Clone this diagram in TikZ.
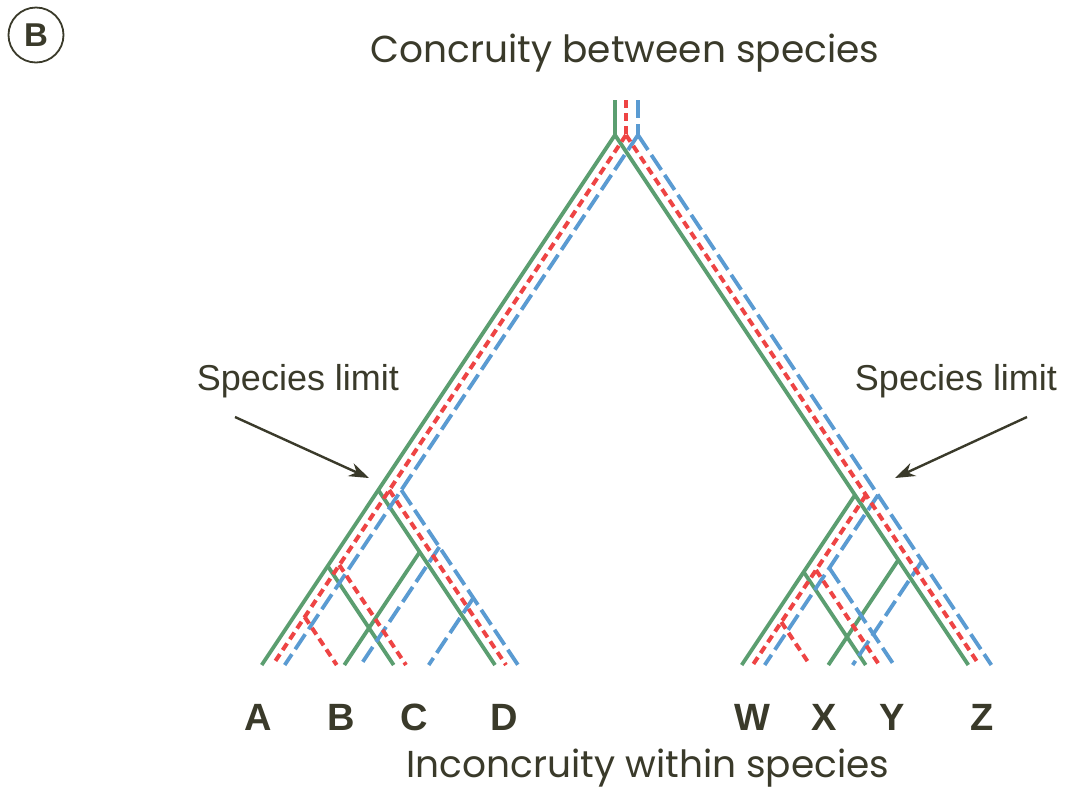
\documentclass[tikz,border=0pt]{standalone}
\usepackage{fontspec}
\setmainfont{Liberation Sans}
\newfontfamily\geofont{Poppins}
\usetikzlibrary{arrows.meta}
\definecolor{TreeGreen}{HTML}{5B9E70}
\definecolor{TreeRed}{HTML}{EE4444}
\definecolor{TreeBlue}{HTML}{5A9BD2}
\definecolor{TreeText}{HTML}{3A3A2A}

\begin{document}
\begin{tikzpicture}[x=1pt,y=-1pt,
    greengene/.style={TreeGreen,line width=3.8pt},
    redgene/.style={TreeRed,line width=4pt,dash pattern=on 8pt off 5pt},
    bluegene/.style={TreeBlue,line width=3.8pt,dash pattern=on 18pt off 6pt},
    caption/.style={text=TreeText,font=\geofont\fontsize{37.5}{40}\selectfont,anchor=base},
    limitlabel/.style={text=TreeText,font=\fontsize{36}{40}\selectfont,anchor=base},
    taxon/.style={text=TreeText,font=\bfseries\fontsize{38}{40}\selectfont,anchor=base},
    pointer/.style={TreeText,line width=2.4pt,-{Stealth[length=20pt,width=14pt]}}]
  \fill[white] (0,0) rectangle (1066,804);
  \useasboundingbox (0,0) rectangle (1066,804);

  % panel mark
  \node[draw=TreeText,line width=1.8pt,circle,minimum size=55pt,inner sep=0pt,
    text=TreeText,font=\bfseries\fontsize{33}{34}\selectfont] (panel) at (36,35) {B};

  % green lineage
  \draw[greengene] (615,100) -- (615,135);
  \draw[greengene] (615,135) -- (261.7,665);
  \draw[greengene] (615,135) -- (968.3,665);
  \draw[greengene] (378.3,490) -- (495,665);
  \draw[greengene] (419.7,552) -- (344.3,665);
  \draw[greengene] (327.7,566) -- (393.7,665);
  \draw[greengene] (855,495) -- (741.7,665);
  \draw[greengene] (803.7,572) -- (865.7,665);
  \draw[greengene] (898.3,560) -- (828.3,665);

  % blue lineage
  \draw[bluegene] (638,100) -- (638,135);
  \draw[bluegene] (638,135) -- (284.7,665);
  \draw[bluegene] (638,135) -- (991.3,665);
  \draw[bluegene] (401.3,490) -- (518,665);
  \draw[bluegene] (439.3,547) -- (360.7,665);
  \draw[bluegene] (473.3,598) -- (428.7,665);
  \draw[bluegene] (878,495) -- (764.7,665);
  \draw[bluegene] (829.3,568) -- (894,665);
  \draw[bluegene] (922,561) -- (852.7,665);

  % red lineage
  \draw[redgene] (626,100) -- (626,135);
  \draw[redgene] (626,135) -- (272.7,665);
  \draw[redgene] (626,135) -- (979.3,665);
  \draw[redgene] (389.3,490) -- (506,665);
  \draw[redgene] (339.3,565) -- (406,665);
  \draw[redgene] (304.7,617) -- (336.7,665);
  \draw[redgene] (866,495) -- (752.7,665);
  \draw[redgene] (816,570) -- (879.3,665);
  \draw[redgene] (781.3,622) -- (810,665);

  % texts
  \node[caption] (top) at (625,62) {Concruity between species};
  \node[caption] (bottom) at (648,777) {Inconcruity within species};
  \node[limitlabel] (limitL) at (298,390) {Species limit};
  \node[limitlabel] (limitR) at (956,390) {Species limit};

  \node[taxon] (A) at (258,730) {A};
  \node[taxon] (B) at (341,730) {B};
  \node[taxon] (C) at (414,730) {C};
  \node[taxon] (D) at (504,730) {D};
  \node[taxon] (W) at (752,730) {W};
  \node[taxon] (X) at (824,730) {X};
  \node[taxon] (Y) at (892,730) {Y};
  \node[taxon] (Z) at (982,730) {Z};

  % arrows to the species splits
  \coordinate (tailL) at (235,417);
  \coordinate (splitL) at (369,478);
  \coordinate (tailR) at (1027,417);
  \coordinate (splitR) at (895,478);
  \draw[pointer] (tailL) -- (splitL);
  \draw[pointer] (tailR) -- (splitR);
\end{tikzpicture}
\end{document}
